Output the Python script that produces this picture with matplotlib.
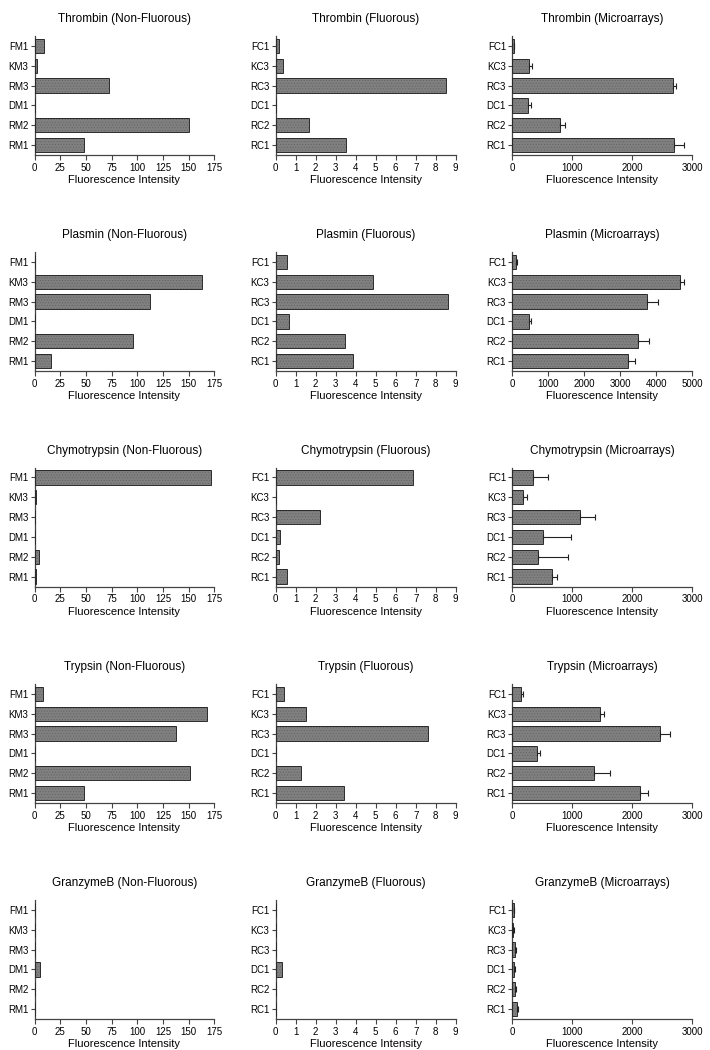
import numpy as np
import matplotlib
matplotlib.use('Agg')
import matplotlib.pyplot as plt

plt.rcParams['font.family'] = ['Liberation Sans', 'DejaVu Sans']
plt.rcParams['hatch.linewidth'] = 0.4

enzymes = ['Thrombin', 'Plasmin', 'Chymotrypsin', 'Trypsin', 'GranzymeB']
nf_labels = ['FM1', 'KM3', 'RM3', 'DM1', 'RM2', 'RM1']
fl_labels = ['FC1', 'KC3', 'RC3', 'DC1', 'RC2', 'RC1']
ma_labels = ['FC1', 'KC3', 'RC3', 'DC1', 'RC2', 'RC1']

# non-fluorous (top to bottom: FM1, KM3, RM3, DM1, RM2, RM1)
thrombin_nf = [9.1, 2.9, 72.3, 0.6, 150.4, 48.3]
plasmin_nf = [0.5, 162.5, 112.0, 0.5, 95.6, 15.9]
chymo_nf = [172.0, 1.3, 0.3, 0.3, 3.9, 1.9]
trypsin_nf = [7.9, 167.5, 138.0, 0.3, 150.8, 47.9]
granzyme_nf = [0.7, 0.2, 0.2, 5.2, 0.2, 0.3]

# fluorous (top to bottom: FC1, KC3, RC3, DC1, RC2, RC1)
thrombin_fl = [0.17, 0.38, 8.5, 0.0, 1.67, 3.53]
plasmin_fl = [0.56, 4.86, 8.62, 0.65, 3.46, 3.85]
chymo_fl = [6.87, 0.0, 2.21, 0.2, 0.18, 0.58]
trypsin_fl = [0.41, 1.52, 7.59, 0.0, 1.27, 3.41]
granzyme_fl = [0.02, 0.0, 0.0, 0.3, 0.0, 0.0]

# microarrays: mean and +error
thrombin_ma = [20, 285, 2670, 260, 795, 2700]
thrombin_ma_err = [15, 40, 55, 50, 90, 155]
plasmin_ma = [100, 4650, 3750, 460, 3480, 3200]
plasmin_ma_err = [40, 130, 290, 50, 330, 200]
chymo_ma = [350, 172, 1133, 505, 422, 667]
chymo_ma_err = [250, 80, 250, 480, 510, 70]
trypsin_ma = [143, 1466, 2466, 414, 1368, 2135]
trypsin_ma_err = [40, 60, 160, 45, 260, 120]
granzyme_ma = [20, 15, 40, 35, 50, 75]
granzyme_ma_err = [5, 5, 15, 5, 8, 15]

nf_vals = [thrombin_nf, plasmin_nf, chymo_nf, trypsin_nf, granzyme_nf]
fl_vals = [thrombin_fl, plasmin_fl, chymo_fl, trypsin_fl, granzyme_fl]
ma_vals = [thrombin_ma, plasmin_ma, chymo_ma, trypsin_ma, granzyme_ma]
ma_errs = [thrombin_ma_err, plasmin_ma_err, chymo_ma_err, trypsin_ma_err, granzyme_ma_err]
ma_max = [3000, 5000, 3000, 3000, 3000]

W, H = 710, 1050
fig = plt.figure(figsize=(W/100, H/100), dpi=100)
lefts = [34.5, 275.7, 512.3]
row_tops = [36, 252, 467.5, 684, 900]
aw, ah = 180, 119


def panel(ax, labels, vals, xmax, step, title, err=None):
    y = np.arange(len(labels))
    ax.barh(y, vals, height=0.72, color='#808080', edgecolor='#626262',
            hatch='......', linewidth=0, zorder=2)
    ax.barh(y, vals, height=0.72, fill=False, edgecolor='#2a2a2a',
            linewidth=0.7, zorder=3)
    if err is not None:
        ax.errorbar(vals, y, xerr=[np.zeros(len(err)), err], fmt='none',
                    ecolor='#222222', elinewidth=0.8, capsize=2.2,
                    capthick=0.8, zorder=4)
    ax.set_yticks(y)
    ax.set_yticklabels(labels, fontsize=7)
    ax.set_ylim(5.5, -0.5)
    ax.set_xlim(0, xmax)
    ax.set_xticks(np.arange(0, xmax + step / 2, step))
    ax.tick_params(axis='x', labelsize=7, length=3.5, width=0.8, pad=2,
                   color='#444444')
    ax.tick_params(axis='y', length=3, width=0.8, pad=1.5, color='#444444')
    for s in ['top', 'right']:
        ax.spines[s].set_visible(False)
    for s in ['left', 'bottom']:
        ax.spines[s].set_color('#444444')
        ax.spines[s].set_linewidth(0.9)
    ax.set_xlabel('Fluorescence Intensity', fontsize=8, labelpad=2)
    ax.set_title(title, fontsize=8.5, pad=10)


for r, enz in enumerate(enzymes):
    bottom = 1 - (row_tops[r] + ah) / H
    axes = [fig.add_axes([lefts[c] / W, bottom, aw / W, ah / H]) for c in range(3)]
    panel(axes[0], nf_labels, nf_vals[r], 175, 25, f'{enz} (Non-Fluorous)')
    panel(axes[1], fl_labels, fl_vals[r], 9, 1, f'{enz} (Fluorous)')
    panel(axes[2], ma_labels, ma_vals[r], ma_max[r], 1000,
          f'{enz} (Microarrays)', err=ma_errs[r])

fig.savefig('out.png', dpi=100)
